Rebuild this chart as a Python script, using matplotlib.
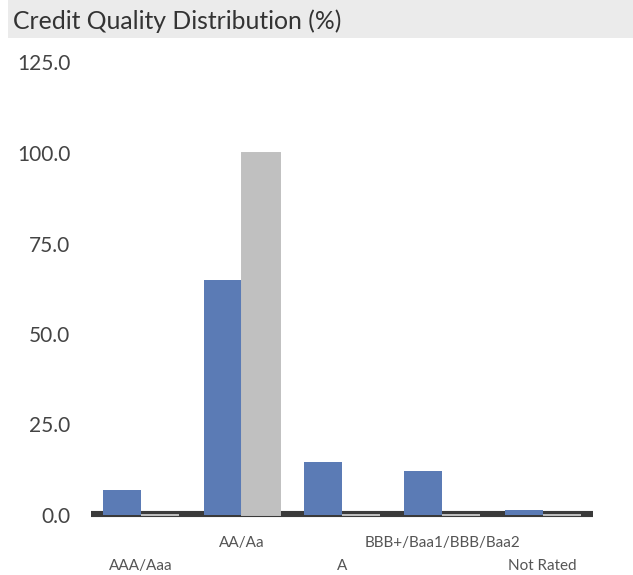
import matplotlib
matplotlib.use("Agg")
import matplotlib.pyplot as plt
import numpy as np
from matplotlib.patches import Rectangle

categories = ["AAA/Aaa", "AA/Aa", "A", "BBB+/Baa1/BBB/Baa2", "Not Rated"]
fund = [6.9, 64.8, 14.7, 12.2, 1.4]
benchmark = [0.0, 100.0, 0.0, 0.0, 0.0]
yticks = [0.0, 25.0, 50.0, 75.0, 100.0, 125.0]

plt.rcParams['font.family'] = ['Lato', 'DejaVu Sans']

W, H = 633, 575
fig = plt.figure(figsize=(W / 100, H / 100), dpi=100)

# title band
fig.patches.append(Rectangle((8 / W, 1 - 38 / H), 1 - 8 / W, 38 / H,
                             transform=fig.transFigure, facecolor="#ebebeb",
                             edgecolor="none", zorder=0))
fig.text(13 / W, 1 - 21 / H, "Credit Quality Distribution (%)", fontsize=17.8,
         color="#333333", va="center", ha="left")

ax = fig.add_axes([91 / W, 1 - 515 / H, (593 - 91) / W, (515 - 62.5) / H])
x = np.arange(len(categories))
bw = 0.378
ax.axhline(0.2, color="#3a3a3a", linewidth=4.4, zorder=1, clip_on=False,
           solid_capstyle="butt")
ax.bar(x - bw / 2, fund, width=bw, color="#5b7bb5", zorder=2)
ax.bar(x + bw / 2, benchmark, width=bw, color="#c0c0c0", edgecolor="#c0c0c0",
       linewidth=1.4, zorder=4, clip_on=False)

ax.set_xlim(-0.5, 4.5)
ax.set_ylim(0, 125)
ax.set_yticks(yticks)
ax.set_yticklabels([f"{v:.1f}" for v in yticks], fontsize=15, color="#444444")
ax.tick_params(axis="y", length=0, pad=15)
ax.set_xticks(x)
ax.set_xticklabels([])
ax.tick_params(axis="x", length=0)
for s in ax.spines.values():
    s.set_visible(False)
ax.patch.set_visible(False)

for i, c in enumerate(categories):
    dy = 543 if i % 2 == 1 else 566
    fig.text((91 + (i + 0.5) * (593 - 91) / 5) / W,
             1 - dy / H, c, fontsize=11, color="#555555", ha="center", va="center")

fig.savefig("out.png", dpi=100)
